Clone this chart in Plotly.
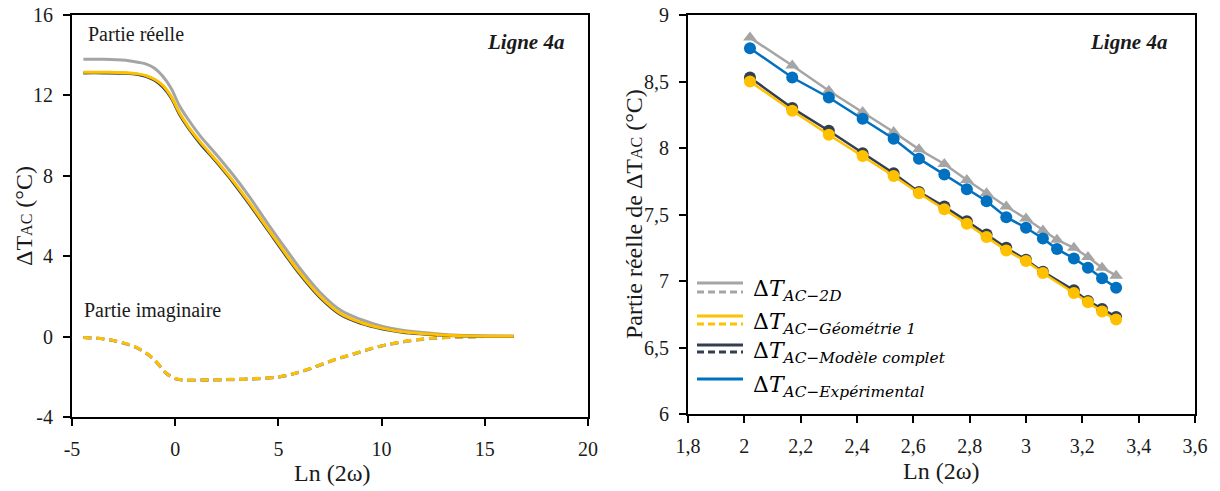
import plotly.graph_objects as go

# ---------------- data : left panel (full frequency range) ----------------
x_real = [-4.45, -3.5, -2.4, -1.8, -1.4, -1.0, -0.6, -0.2, 0.2, 0.6, 1.2, 2.0, 2.8,
          3.6, 4.5, 5.4, 6.0, 7.0, 8.0, 9.0, 10.0, 11.0, 12.0, 13.0, 14.0, 15.0, 16.4]
gray_real = [13.80, 13.80, 13.75, 13.65, 13.56, 13.35, 12.95, 12.35, 11.50, 10.85, 10.00, 9.05,
             8.05, 6.95, 5.60, 4.30, 3.45, 2.22, 1.32, 0.85, 0.52, 0.32, 0.20, 0.11, 0.06, 0.04, 0.03]
orange_real = [13.15, 13.15, 13.13, 13.07, 12.98, 12.80, 12.50, 11.95, 11.15, 10.50, 9.70, 8.75,
               7.75, 6.65, 5.35, 4.05, 3.22, 2.02, 1.15, 0.70, 0.42, 0.24, 0.15, 0.08, 0.04, 0.02, 0.02]
black_real = [13.12, 13.12, 13.10, 13.04, 12.94, 12.75, 12.42, 11.88, 11.08, 10.43, 9.62, 8.68,
              7.68, 6.58, 5.28, 3.98, 3.15, 1.96, 1.10, 0.66, 0.39, 0.22, 0.13, 0.07, 0.03, 0.01, 0.01]

x_imag = [-4.45, -3.2, -2.0, -1.4, -1.0, -0.45, 0.0, 0.4, 1.5, 2.5, 3.6, 5.0, 5.8, 6.6, 7.7,
          8.6, 9.7, 10.7, 11.7, 12.8, 14.0, 15.0, 16.4]
gray_imag = [-0.05, -0.16, -0.50, -0.84, -1.17, -1.82, -2.10, -2.17, -2.17, -2.15, -2.12, -2.02,
             -1.84, -1.58, -1.17, -0.89, -0.55, -0.33, -0.17, -0.07, -0.02, 0.0, 0.0]
orange_imag = [-0.05, -0.15, -0.48, -0.82, -1.15, -1.80, -2.08, -2.15, -2.15, -2.13, -2.10, -2.00,
               -1.82, -1.56, -1.15, -0.87, -0.53, -0.31, -0.15, -0.05, -0.01, 0.0, 0.0]
black_imag = [-0.05, -0.16, -0.49, -0.83, -1.16, -1.81, -2.09, -2.16, -2.16, -2.14, -2.11, -2.01,
              -1.83, -1.57, -1.16, -0.88, -0.54, -0.32, -0.16, -0.06, -0.01, 0.0, 0.0]

# ---------------- data : right panel (zoom, real part) ----------------
x_right = [2.02, 2.17, 2.30, 2.42, 2.53, 2.62, 2.71, 2.79, 2.86, 2.93, 3.00, 3.06, 3.11,
           3.17, 3.22, 3.27, 3.32]
gray_2d = [8.83, 8.62, 8.43, 8.27, 8.12, 7.99, 7.88, 7.76, 7.66, 7.56, 7.47, 7.38, 7.31,
           7.25, 7.18, 7.10, 7.04]
blue_exp = [8.75, 8.53, 8.38, 8.22, 8.07, 7.92, 7.80, 7.69, 7.60, 7.48, 7.40, 7.32, 7.24,
            7.17, 7.10, 7.02, 6.95]
x_model = [2.02, 2.17, 2.30, 2.42, 2.53, 2.62, 2.71, 2.79, 2.86, 2.93, 3.00, 3.06,
           3.17, 3.22, 3.27, 3.32]
black_model = [8.53, 8.30, 8.13, 7.96, 7.81, 7.67, 7.56, 7.45, 7.35, 7.25, 7.16, 7.07,
               6.93, 6.85, 6.79, 6.73]
orange_geo = [8.50, 8.28, 8.10, 7.94, 7.79, 7.66, 7.54, 7.43, 7.33, 7.23, 7.15, 7.06,
              6.91, 6.84, 6.77, 6.71]

left_xticks = [-5, 0, 5, 10, 15, 20]
left_xtext = ["-5", "0", "5", "10", "15", "20"]
left_yticks = [-4, 0, 4, 8, 12, 16]
left_ytext = ["-4", "0", "4", "8", "12", "16"]
right_xticks = [1.8, 2.0, 2.2, 2.4, 2.6, 2.8, 3.0, 3.2, 3.4, 3.6]
right_xtext = ["1,8", "2", "2,2", "2,4", "2,6", "2,8", "3", "3,2", "3,4", "3,6"]
right_yticks = [6, 6.5, 7, 7.5, 8, 8.5, 9]
right_ytext = ["6", "6,5", "7", "7,5", "8", "8,5", "9"]

legend_names = ["AC\u22122D", "AC\u2212G\u00e9om\u00e9trie 1", "AC\u2212Mod\u00e8le complet", "AC\u2212Exp\u00e9rimental"]

GRAY = "#A5A5A5"
ORANGE = "#FFC000"
DARK = "#333F50"
BLUE = "#0070C0"

W, H = 1220, 491
def px(xp):
    return xp / W
def py(yp):
    return (H - yp) / H

fig = go.Figure()

# ---- left panel ----
dash = "8px,5px"
fig.add_trace(go.Scatter(x=x_imag, y=black_imag, mode="lines", line=dict(color=DARK, width=3, dash=dash, shape="spline"), xaxis="x", yaxis="y", showlegend=False))
fig.add_trace(go.Scatter(x=x_imag, y=gray_imag, mode="lines", line=dict(color=GRAY, width=3, dash=dash, shape="spline"), xaxis="x", yaxis="y", showlegend=False))
fig.add_trace(go.Scatter(x=x_imag, y=orange_imag, mode="lines", line=dict(color=ORANGE, width=3, dash=dash, shape="spline"), xaxis="x", yaxis="y", showlegend=False))
fig.add_trace(go.Scatter(x=x_real, y=gray_real, mode="lines", line=dict(color=GRAY, width=3, shape="spline"), xaxis="x", yaxis="y", showlegend=False))
fig.add_trace(go.Scatter(x=x_real, y=black_real, mode="lines", line=dict(color=DARK, width=3, shape="spline"), xaxis="x", yaxis="y", showlegend=False))
fig.add_trace(go.Scatter(x=x_real, y=orange_real, mode="lines", line=dict(color=ORANGE, width=3, shape="spline"), xaxis="x", yaxis="y", showlegend=False))

# ---- right panel ----
fig.add_trace(go.Scatter(x=x_right, y=gray_2d, mode="lines+markers", line=dict(color=GRAY, width=2.5),
                         marker=dict(symbol="triangle-up", size=12, color=GRAY), xaxis="x2", yaxis="y2", showlegend=False))
fig.add_trace(go.Scatter(x=x_model, y=black_model, mode="lines+markers", line=dict(color=DARK, width=2.5),
                         marker=dict(symbol="circle", size=12, color=DARK), xaxis="x2", yaxis="y2", showlegend=False))
fig.add_trace(go.Scatter(x=x_model, y=orange_geo, mode="lines+markers", line=dict(color=ORANGE, width=2.5),
                         marker=dict(symbol="circle", size=12, color=ORANGE), xaxis="x2", yaxis="y2", showlegend=False))
fig.add_trace(go.Scatter(x=x_right, y=blue_exp, mode="lines+markers", line=dict(color=BLUE, width=2.5),
                         marker=dict(symbol="circle", size=12, color=BLUE), xaxis="x2", yaxis="y2", showlegend=False))

SERIF = "Liberation Serif, Times New Roman, Tinos, DejaVu Serif, serif"
tickfont = dict(family=SERIF, size=20, color="#1a1a1a")
axis_common = dict(showline=True, linecolor="black", linewidth=2, mirror=True, ticks="outside",
                   ticklen=7, tickwidth=1.5, tickcolor="black", showgrid=False, zeroline=False,
                   tickfont=tickfont, tickmode="array", ticklabelstandoff=6, automargin=False)

fig.update_layout(
    width=W, height=H,
    margin=dict(l=0, r=0, t=0, b=0, pad=0, autoexpand=False),
    paper_bgcolor="white", plot_bgcolor="white",
    font=dict(family=SERIF),
    xaxis=dict(domain=[px(72), px(588)], range=[-5, 20], anchor="y", tickvals=left_xticks, ticktext=left_xtext, **axis_common),
    yaxis=dict(domain=[py(417), py(15)], range=[-4, 16], anchor="x", tickvals=left_yticks, ticktext=left_ytext, **axis_common),
    xaxis2=dict(domain=[px(688), px(1195)], range=[1.8, 3.6], anchor="y2", tickvals=right_xticks, ticktext=right_xtext, **axis_common),
    yaxis2=dict(domain=[py(414), py(15)], range=[6, 9], anchor="x2", tickvals=right_yticks, ticktext=right_ytext, **axis_common),
)

ann = []
def text(x, y, t, size=20, xanchor="center", yanchor="middle", angle=0, family=SERIF, color="#1a1a1a"):
    ann.append(dict(x=px(x), y=py(y), xref="paper", yref="paper", text=t, showarrow=False,
                    xanchor=xanchor, yanchor=yanchor, textangle=angle,
                    font=dict(family=family, size=size, color=color)))

text(86, 34, "Partie réelle", size=20, xanchor="left")
text(82, 310, "Partie imaginaire", size=20, xanchor="left")
text(525, 42, "<b><i>Ligne 4a</i></b>", size=21)
text(1128, 42, "<b><i>Ligne 4a</i></b>", size=21)
text(332, 473, "Ln (2\u03c9)", size=24)
text(941, 471, "Ln (2\u03c9)", size=24)
text(24, 216, "\u0394T<span style='font-size:16px'>AC</span> (\u00b0C)", size=24, angle=-90)
text(634, 214, "Partie réelle de \u0394T<span style='font-size:16px'>AC</span> (\u00b0C)", size=24, angle=-90)

# ---- manual legend (solid + dashed samples) ----
shapes = []
leg_rows = [(283, 292, GRAY), (316, 324, ORANGE), (345, 352, DARK), (379, None, BLUE)]
for (ys, yd, col), name in zip(leg_rows, legend_names):
    shapes.append(dict(type="line", xref="paper", yref="paper", x0=px(697), x1=px(743), y0=py(ys), y1=py(ys),
                       line=dict(color=col, width=3)))
    if yd is not None:
        shapes.append(dict(type="line", xref="paper", yref="paper", x0=px(697), x1=px(743), y0=py(yd), y1=py(yd),
                           line=dict(color=col, width=3, dash="7px,4px")))
    text(751, ys + 7, "\u0394<i>T</i><sub><i>" + name + "</i></sub>", size=22, xanchor="left", family="DejaVu Serif", color="black")

fig.update_layout(annotations=ann, shapes=shapes)
fig.write_html("out.html", config={"displayModeBar": False},
               post_script="document.body.style.margin='0';document.body.style.overflow='hidden';")
